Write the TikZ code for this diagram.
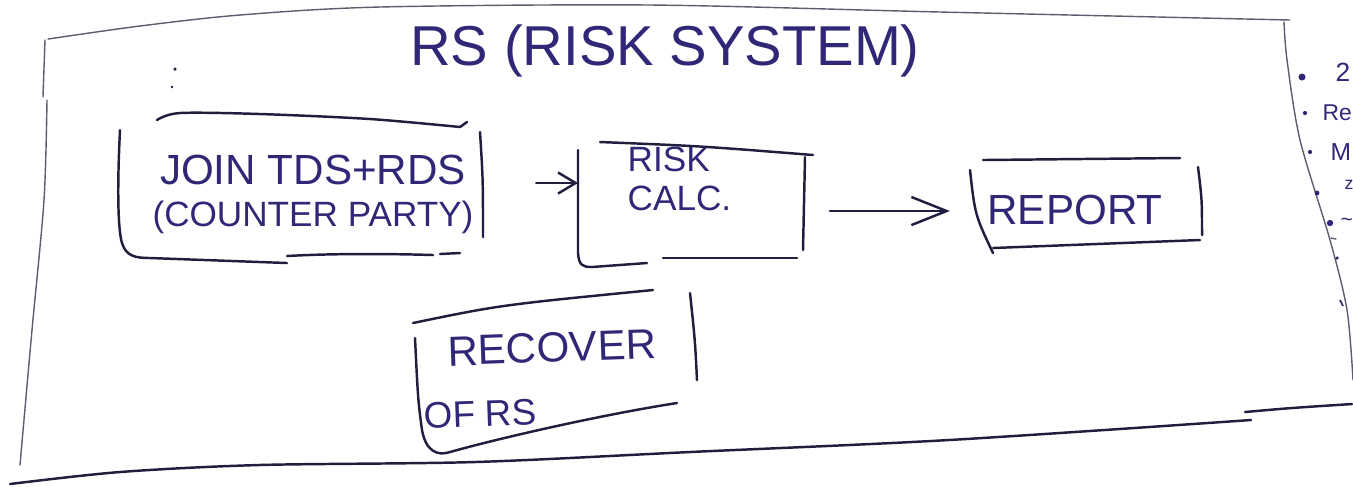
\documentclass[tikz,border=0pt]{standalone}
\usepackage{fontspec}
\setmainfont{Liberation Sans}
\usetikzlibrary{arrows.meta,positioning}
\definecolor{inkblue}{RGB}{48,40,118}
\definecolor{markerdark}{RGB}{32,30,62}
\definecolor{framegrey}{RGB}{95,92,110}

\begin{document}
\begin{tikzpicture}[x=0.1mm,y=-0.1mm,
  pen/.style={markerdark,line width=0.7pt,line cap=round,line join=round},
  thinpen/.style={framegrey,line width=0.4pt,line cap=round},
  lbl/.style={inkblue,inner sep=0pt,font=\fontsize{12}{12}\selectfont},
  note/.style={lbl,anchor=west,font=\fontsize{7.5}{7.5}\selectfont},
  arr/.style={pen,-{Straight Barb[length=5pt,width=6pt]}}]
\useasboundingbox (0,0) rectangle (1353,486);
\clip (0,0) rectangle (1353,486);

% outer frame of the risk system
\draw[thinpen] plot[smooth] coordinates {(48,39) (140,26) (240,15) (380,7) (650,5) (940,12) (1290,20)};
\draw[thinpen] (45,40) -- (43,97);
\draw[thinpen] plot[smooth] coordinates {(47,100) (44,200) (32,330) (20,465)};
\draw[thinpen] plot[smooth] coordinates {(1284,22) (1287,60) (1300,140) (1330,240) (1347,310) (1353,380)};
\draw[pen] plot[smooth] coordinates {(10,484) (120,472) (259,465) (475,462) (690,452) (949,440) (1251,420)};
\draw[pen] (1245,412) .. controls (1290,408) .. (1352,404);

% title and stray marks
\node[inkblue,inner sep=0pt,font=\fontsize{16}{16}\selectfont] (title) at (665,51) {RS (RISK SYSTEM)};
\fill[markerdark] (175,69) circle (0.5pt);
\fill[markerdark] (172,87) circle (0.4pt);

% join box
\node[lbl,align=center] (join) at (313,194) {JOIN TDS+RDS\\{\fontsize{10}{12}\selectfont (COUNTER PARTY)}};
\draw[pen] plot[smooth] coordinates {(157,120) (180,113) (260,114) (370,119) (460,127)};
\draw[pen] (460,127) -- (467,122);
\draw[pen] (120,130) .. controls (117,190) and (118,230) .. (122,243) .. controls (126,256) and (135,258) .. (150,258) -- (287,263);
\draw[pen] (287,256) .. controls (340,253) and (400,254) .. (433,255);
\draw[pen] (440,254) -- (460,253);
\draw[pen] (480,132) .. controls (483,180) .. (483,237);

% risk calc box
\node[lbl,align=left,anchor=west,font=\fontsize{10}{11}\selectfont] (risk) at (627,179) {RISK\\CALC.};
\draw[pen] (600,142) .. controls (700,146) .. (813,155);
\draw[pen] (578,150) -- (578,253) .. controls (579,265) and (582,267) .. (592,267) -- (647,263);
\draw[pen] (663,258) -- (797,258);
\draw[pen] (805,157) -- (803,250);

% report box
\node[lbl] (report) at (1075,210) {REPORT};
\draw[pen] (983,160) -- (1180,158);
\draw[pen] (970,170) .. controls (975,215) .. (993,253);
\draw[pen] (1198,167) .. controls (1202,200) .. (1202,235);
\draw[pen] (993,248) -- (1200,240);

% recover box
\node[lbl,align=left,rotate=2,font=\fontsize{12}{17.5}\selectfont] (recover) at (540,379) {\hspace*{2.6mm}RECOVER\\{\fontsize{10.5}{12}\selectfont OF RS}};
\draw[pen] (413,323) .. controls (500,305) .. (653,290);
\draw[pen] (415,338) .. controls (418,400) .. (422,430) .. controls (426,452) and (438,456) .. (450,452) .. controls (500,438) and (600,415) .. (677,403);
\draw[pen] (690,293) .. controls (695,340) .. (697,380);

% arrows
\draw[arr,shorten <=6.2mm,shorten >=4.9mm] (join.east |- 0,183) -- (risk.west |- 0,183);
\draw[arr,-{Straight Barb[length=10pt,width=8pt]},shorten <=9.8mm,shorten >=3.7mm] (risk.east |- 0,211) -- (report.west |- 0,211);

% notes at the right edge
\fill[inkblue] (1302,77) circle (1pt);
\node[note] (n2) at (1335,72) {2};
\fill[inkblue] (1305,113) circle (0.6pt);
\node[note,font=\fontsize{6.5}{6.5}\selectfont] (nre) at (1322,113) {Re};
\fill[inkblue] (1310,152) circle (0.6pt);
\node[note,font=\fontsize{7}{7}\selectfont] (nm) at (1330,152) {M};
\node[note,font=\fontsize{5}{5}\selectfont] (nz) at (1344,185) {z};
\fill[inkblue] (1317,193) circle (0.7pt);
\fill[inkblue] (1330,223) circle (0.9pt);
\node[note,font=\fontsize{6}{6}\selectfont] (nw) at (1340,222) {\textasciitilde};
\draw[thinpen] (1331,238) -- (1336,239);
\fill[inkblue] (1337,258) circle (0.5pt);
\draw[inkblue,line width=0.5pt] (1340,300) -- (1343,306);
\end{tikzpicture}
\end{document}
